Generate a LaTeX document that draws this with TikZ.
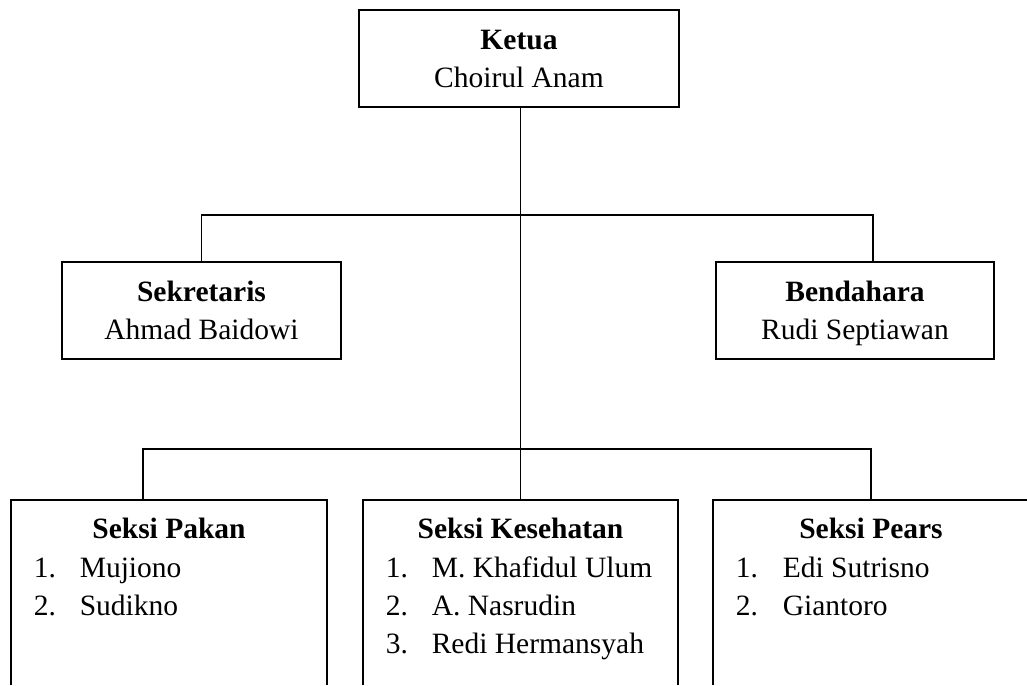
\documentclass[tikz,border=0pt]{standalone}
\usepackage{fontspec}
\setmainfont{Liberation Serif}
\newcommand\lnstrut{\rule[-9.5pt]{0pt}{38pt}}
\begin{document}
\begin{tikzpicture}[x=1pt,y=-1pt,line width=1.6pt,
  box/.style={draw, rectangle, inner sep=0pt, outer sep=0pt, align=center,
    font=\fontsize{29.5}{38}\selectfont},
  openbox/.style={rectangle, inner sep=0pt, outer sep=0pt},
  txt/.style={font=\fontsize{29.5}{38}\selectfont, inner sep=0pt, anchor=base west},
  head/.style={font=\fontsize{29.5}{38}\selectfont\bfseries, inner sep=0pt, anchor=base}]
\useasboundingbox (0,0) rectangle (1027,685);
% top boxes
\node[box, minimum width=320pt, minimum height=97pt] (ketua) at (519,58.5) {\textbf{Ketua}\lnstrut\\Choirul Anam\lnstrut};
\node[box, minimum width=279pt, minimum height=97pt] (sek) at (201.5,310.5) {\textbf{Sekretaris}\lnstrut\\Ahmad Baidowi\lnstrut};
\node[box, minimum width=278pt, minimum height=97pt] (bend) at (855,310.5) {\textbf{Bendahara}\lnstrut\\Rudi Septiawan\lnstrut};
% bottom open boxes
\node[openbox, minimum width=316pt, minimum height=185pt] (pakan) at (169,592.5) {};
\node[openbox, minimum width=315pt, minimum height=185pt] (kes) at (520.5,592.5) {};
\node[openbox, minimum width=316pt, minimum height=185pt] (pears) at (871,592.5) {};
\foreach \b in {pakan,kes,pears}{
  \draw (\b.south west) -- (\b.north west) -- (\b.north east) -- (\b.south east);
}
% junction coordinates
\coordinate (t1) at (202,215);
\coordinate (t2) at (873,215);
\coordinate (b1) at (143,449);
\coordinate (b2) at (871,449);
% connectors
\draw (ketua.south -| kes.north) -- (kes.north);
\draw (sek.north) |- (t2) -- (bend.north -| t2);
\draw (pakan.north -| b1) |- (b2) -- (pears.north -| b2);
% headings
\node[head] (hpakan) at (169,538) {Seksi Pakan};
\node[head] (hkes) at (520.5,538) {Seksi Kesehatan};
\node[head] (hpears) at (871,538) {Seksi Pears};
% lists
\node[txt] (p1n) at (33,577) {1.};
\node[txt] (p1) at (79,577) {Mujiono};
\node[txt] (p2n) at (33,615) {2.};
\node[txt] (p2) at (79,615) {Sudikno};
\node[txt] (k1n) at (385,577) {1.};
\node[txt] (k1) at (431,577) {M. Khafidul Ulum};
\node[txt] (k2n) at (385,615) {2.};
\node[txt] (k2) at (431,615) {A. Nasrudin};
\node[txt] (k3n) at (385,653) {3.};
\node[txt] (k3) at (431,653) {Redi Hermansyah};
\node[txt] (e1n) at (735,577) {1.};
\node[txt] (e1) at (782,577) {Edi Sutrisno};
\node[txt] (e2n) at (735,615) {2.};
\node[txt] (e2) at (782,615) {Giantoro};
\end{tikzpicture}
\end{document}
